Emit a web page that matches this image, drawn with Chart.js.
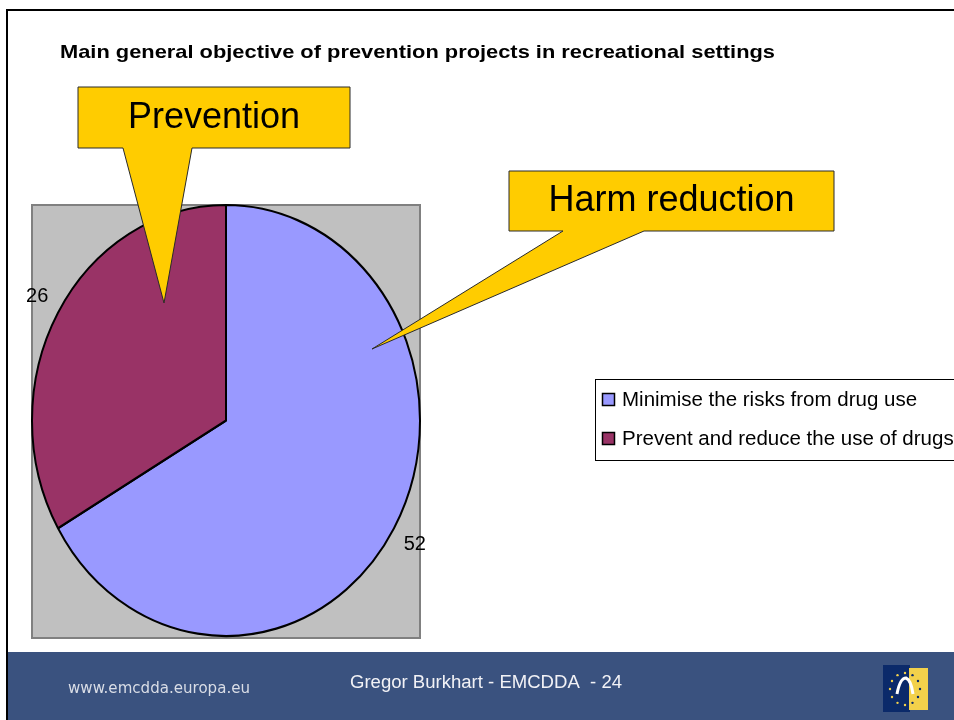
<!DOCTYPE html>
<html>
<head>
<meta charset="utf-8">
<script src="https://cdn.jsdelivr.net/npm/chart.js@4.4.1/dist/chart.umd.min.js"></script>
<style>
  html, body { margin: 0; padding: 0; background: #fff; overflow: hidden; }
  canvas { display: block; }
</style>
</head>
<body>
<canvas id="slide" width="954" height="720"></canvas>
<script>
// chart data
const objectives = ['Minimise the risks from drug use', 'Prevent and reduce the use of drugs'];
const projectCounts = [52, 26];
const sliceColors = ['#9999FF', '#993366'];

const chartTitle = 'Main general objective of prevention projects in recreational settings';
const footerLeft = 'www.emcdda.europa.eu';
const footerCenter = 'Gregor Burkhart - EMCDDA  - 24';

// pie is drawn as an ellipse, stretched vertically around its centre
const stretchY = 215.5 / 194;

// draw text squeezed/stretched to a given width
function fitText(ctx, text, x, y, width) {
    const w = ctx.measureText(text).width;
    ctx.save();
    ctx.translate(x, y);
    ctx.scale(width / w, 1);
    ctx.fillText(text, 0, 0);
    ctx.restore();
}

function callout(ctx, box, base, tip, text) {
    ctx.save();
    ctx.beginPath();
    ctx.moveTo(box.l, box.t);
    ctx.lineTo(box.r, box.t);
    ctx.lineTo(box.r, box.b);
    ctx.lineTo(base[1], box.b);
    ctx.lineTo(tip[0], tip[1]);
    ctx.lineTo(base[0], box.b);
    ctx.lineTo(box.l, box.b);
    ctx.closePath();
    ctx.fillStyle = '#FFCC00';
    ctx.fill();
    ctx.strokeStyle = '#2a2a2a';
    ctx.lineWidth = 1;
    ctx.stroke();
    ctx.fillStyle = '#000';
    ctx.font = '36px "Liberation Sans", Arial, sans-serif';
    ctx.textAlign = 'center';
    ctx.textBaseline = 'alphabetic';
    ctx.fillText(text, (box.l + box.r) / 2, box.b - 20);
    ctx.restore();
}

const slideBackground = {
    id: 'slideBackground',
    beforeDraw(chart) {
        const ctx = chart.ctx;
        const a = chart.chartArea;
        ctx.save();
        ctx.fillStyle = '#fff';
        ctx.fillRect(0, 0, chart.width, chart.height);

        // plot area
        ctx.fillStyle = '#C0C0C0';
        ctx.fillRect(a.left, a.top, a.right - a.left, 433);
        ctx.strokeStyle = '#808080';
        ctx.lineWidth = 2;
        ctx.strokeRect(a.left, a.top, a.right - a.left, 433);

        // footer band
        ctx.fillStyle = '#3A527F';
        ctx.fillRect(8, 652, chart.width - 8, chart.height - 652);

        // slide frame
        ctx.strokeStyle = '#000';
        ctx.lineWidth = 2;
        ctx.beginPath();
        ctx.moveTo(7, chart.height);
        ctx.lineTo(7, 10);
        ctx.lineTo(chart.width, 10);
        ctx.stroke();

        // title
        ctx.fillStyle = '#000';
        ctx.font = 'bold 19px "Liberation Sans", Arial, sans-serif';
        ctx.textBaseline = 'alphabetic';
        fitText(ctx, chartTitle, 60, 58, 715);
        ctx.restore();
    },
    beforeDatasetsDraw(chart) {
        const arc = chart.getDatasetMeta(0).data[0];
        const ctx = chart.ctx;
        ctx.save();
        ctx.translate(arc.x, arc.y);
        ctx.scale(1, stretchY);
        ctx.translate(-arc.x, -arc.y);
    },
    afterDatasetsDraw(chart) {
        const ctx = chart.ctx;
        ctx.restore();
        const meta = chart.getDatasetMeta(0);

        // value labels outside the ellipse
        ctx.save();
        ctx.fillStyle = '#000';
        ctx.font = '20px "Liberation Sans", Arial, sans-serif';
        ctx.textAlign = 'center';
        ctx.textBaseline = 'middle';
        meta.data.forEach((arc, i) => {
            const mid = (arc.startAngle + arc.endAngle) / 2;
            const x = arc.x + Math.cos(mid) * (arc.outerRadius + 24);
            const y = arc.y + Math.sin(mid) * (arc.outerRadius + 30) * stretchY;
            ctx.fillText(String(projectCounts[i]), x, y);
        });
        ctx.restore();

        // callouts
        callout(ctx, {l: 78, t: 87, r: 350, b: 148}, [123, 192], [164, 303], 'Prevention');
        callout(ctx, {l: 509, t: 171, r: 834, b: 231}, [563, 644], [372, 349], 'Harm reduction');

        // legend
        ctx.save();
        ctx.fillStyle = '#fff';
        ctx.fillRect(595, 379, 400, 81);
        ctx.strokeStyle = '#000';
        ctx.lineWidth = 1;
        ctx.strokeRect(595.5, 379.5, 400, 81);
        ctx.font = '20.5px "Liberation Sans", Arial, sans-serif';
        ctx.textBaseline = 'middle';
        ctx.textAlign = 'left';
        objectives.forEach((label, i) => {
            const cy = 400 + i * 39;
            ctx.fillStyle = sliceColors[i];
            ctx.fillRect(602.5, cy - 6.5, 12, 12);
            ctx.strokeStyle = '#000';
            ctx.lineWidth = 1.5;
            ctx.strokeRect(602.5, cy - 6.5, 12, 12);
            ctx.fillStyle = '#000';
            ctx.fillText(label, 622, cy);
        });
        ctx.restore();

        // footer text
        ctx.save();
        ctx.textBaseline = 'alphabetic';
        ctx.fillStyle = '#D9DDE6';
        ctx.font = '15px "DejaVu Sans", sans-serif';
        fitText(ctx, footerLeft, 68, 693, 182);
        ctx.fillStyle = '#F2F2F6';
        ctx.font = '18px "Liberation Sans", Arial, sans-serif';
        fitText(ctx, footerCenter, 350, 688, 272);

        // logo
        ctx.fillStyle = '#0B2A6A';
        ctx.fillRect(883, 665, 27, 47);
        ctx.fillStyle = '#F3D14B';
        ctx.fillRect(909, 668, 19, 42);
        ctx.strokeStyle = '#fff';
        ctx.lineWidth = 3;
        ctx.beginPath();
        ctx.moveTo(897, 694);
        ctx.quadraticCurveTo(900, 678, 906, 678);
        ctx.quadraticCurveTo(911, 680, 913, 694);
        ctx.stroke();
        for (let k = 0; k < 12; k++) {
            const t = k / 12 * Math.PI * 2;
            const sx = 905 + Math.cos(t) * 15;
            const sy = 689 + Math.sin(t) * 16;
            ctx.fillStyle = sx > 909 ? '#0B2A6A' : '#F3D14B';
            ctx.beginPath();
            ctx.arc(sx, sy, 1.2, 0, Math.PI * 2);
            ctx.fill();
        }
        ctx.restore();
    }
};

new Chart(document.getElementById('slide'), {
    type: 'pie',
    data: {
        labels: objectives,
        datasets: [{
            data: projectCounts,
            backgroundColor: sliceColors,
            borderColor: '#000',
            borderWidth: 2
        }]
    },
    options: {
        responsive: false,
        animation: false,
        devicePixelRatio: 1,
        radius: 194,
        layout: {
            padding: { left: 32, right: 534, top: 205, bottom: 84 }
        },
        plugins: {
            legend: { display: false },
            tooltip: { enabled: false },
            title: { display: false }
        }
    },
    plugins: [slideBackground]
});
</script>
</body>
</html>
